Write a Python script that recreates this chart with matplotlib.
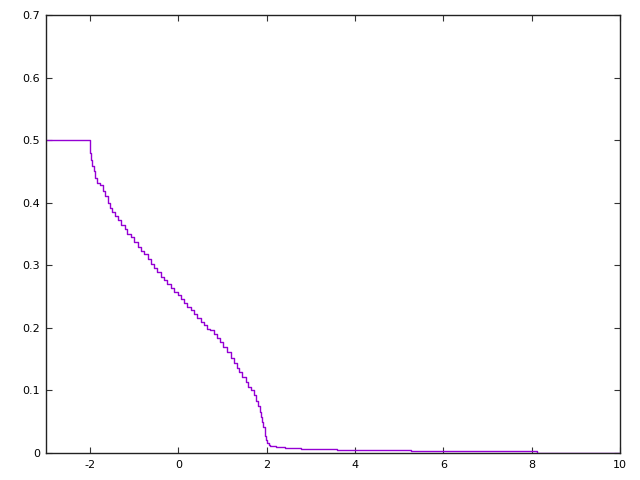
import matplotlib
matplotlib.use("Agg")
import matplotlib.pyplot as plt

# step start positions (x) and survival-like values (y)
x_vals = [-3.0, -2.0, -1.98, -1.95, -1.92, -1.88, -1.84, -1.78, -1.72, -1.66,
          -1.60, -1.55, -1.50, -1.44, -1.36, -1.30, -1.22, -1.16, -1.08, -1.00,
          -0.92, -0.85, -0.78, -0.70, -0.62, -0.55, -0.48, -0.40, -0.32, -0.25,
          -0.18, -0.10, -0.02, 0.05, 0.12, 0.20, 0.28, 0.35, 0.42, 0.50,
          0.58, 0.65, 0.72, 0.80, 0.88, 0.95, 1.02, 1.10, 1.18, 1.25,
          1.32, 1.38, 1.45, 1.52, 1.58, 1.64, 1.70, 1.75, 1.80, 1.84,
          1.87, 1.90, 1.92, 1.95, 1.97, 1.99, 2.01, 2.04, 2.08, 2.20,
          2.42, 2.78, 3.60, 5.27, 8.11, 10.0]
y_vals = [0.500, 0.480, 0.468, 0.458, 0.450, 0.440, 0.432, 0.428, 0.418, 0.410,
          0.400, 0.392, 0.385, 0.378, 0.372, 0.365, 0.358, 0.350, 0.345, 0.338,
          0.330, 0.323, 0.318, 0.310, 0.302, 0.296, 0.290, 0.282, 0.276, 0.270,
          0.264, 0.258, 0.252, 0.246, 0.240, 0.234, 0.228, 0.222, 0.216, 0.210,
          0.204, 0.198, 0.197, 0.190, 0.184, 0.177, 0.170, 0.161, 0.152, 0.144,
          0.136, 0.129, 0.121, 0.113, 0.106, 0.100, 0.093, 0.083, 0.075, 0.066,
          0.058, 0.050, 0.042, 0.034, 0.027, 0.021, 0.016, 0.013, 0.011, 0.009,
          0.0075, 0.006, 0.0045, 0.0025, 0.0005, 0.0005]

x_ticks = [-2, 0, 2, 4, 6, 8, 10]
y_ticks = [0, 0.1, 0.2, 0.3, 0.4, 0.5, 0.6, 0.7]
y_labels = ["0", "0.1", "0.2", "0.3", "0.4", "0.5", "0.6", "0.7"]

fig = plt.figure(figsize=(6.4, 4.8), dpi=100)
ax = fig.add_axes([46/640, 27/480, (620-46)/640, (453-15)/480])
ax.step(x_vals, y_vals, where="post", color="#9400D3", lw=1.0)
ax.set_xlim(-3, 10)
ax.set_ylim(0, 0.7)
ax.set_xticks(x_ticks)
ax.set_xticklabels([str(t) for t in x_ticks])
ax.set_yticks(y_ticks)
ax.set_yticklabels(y_labels)
ax.tick_params(direction="in", length=4.5, width=0.8, top=True, right=True,
               labelsize=8, color="#333333")
ax.tick_params(axis="x", pad=5)
ax.tick_params(axis="y", pad=4.3)
for s in ax.spines.values():
    s.set_linewidth(1.0)
    s.set_color("#222222")
fig.savefig("out.png", dpi=100)
